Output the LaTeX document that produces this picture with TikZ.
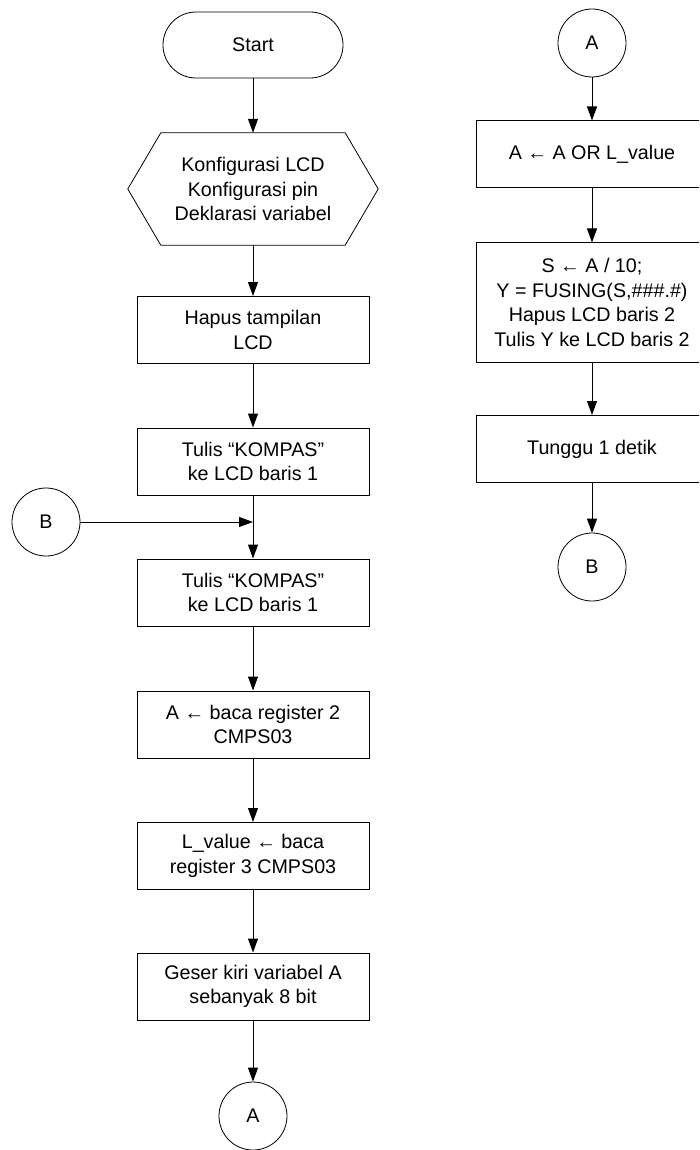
\documentclass[tikz,border=0pt]{standalone}
\usepackage{fontspec}
\setmainfont{Liberation Sans}
\usetikzlibrary{arrows.meta}

\begin{document}
\begin{tikzpicture}[x=1pt, y=-1pt,
    every node/.style={font=\fontsize{19.7}{24.5}\selectfont, align=center},
    proc/.style={draw, line width=1pt, minimum width=232pt, minimum height=67pt, inner sep=0pt},
    conn/.style={draw, circle, line width=0.8pt, minimum size=68pt, inner sep=0pt},
    arr/.style={line width=1pt, -{Triangle[length=14pt,width=10pt]}}]
    \clip (0,0) rectangle (699,1150);

    % Left column
    \node[draw, rounded corners=33pt, minimum width=180pt, minimum height=66pt, line width=0.8pt] (start) at (253,45) {Start};
    \node[minimum width=184pt, minimum height=112pt, inner sep=0pt] (conf) at (253,189) {Konfigurasi LCD\\Konfigurasi pin\\Deklarasi variabel};
    \draw[line width=0.8pt] (conf.north west) -- (conf.north east) -- ([xshift=33pt]conf.east) -- (conf.south east) -- (conf.south west) -- ([xshift=-33pt]conf.west) -- cycle;
    \node[proc] (hapus) at (253,330) {Hapus tampilan\\LCD};
    \node[proc] (tulisa) at (253,461.5) {Tulis “KOMPAS”\\ke LCD baris 1};
    \node[conn] (bin) at (46,522) {B};
    \node[proc] (tulisb) at (253,592.5) {Tulis “KOMPAS”\\ke LCD baris 1};
    \node[proc] (bacaa) at (253,724.5) {A ← baca register 2\\CMPS03};
    \node[proc] (bacal) at (253,856) {L\_value ← baca\\register 3 CMPS03};
    \node[proc] (geser) at (253,986.5) {Geser kiri variabel A\\sebanyak 8 bit};
    \node[conn] (aout) at (253,1116) {A};

    \draw[arr] (start) -- (conf);
    \draw[arr] (conf) -- (hapus);
    \draw[arr] (hapus) -- (tulisa);
    \draw[arr] (tulisa) -- (tulisb);
    \draw[arr] (bin) -- (bin -| tulisa);
    \draw[arr] (tulisb) -- (bacaa);
    \draw[arr] (bacaa) -- (bacal);
    \draw[arr] (bacal) -- (geser);
    \draw[arr] (geser) -- (aout);

    % Right column
    \node[conn] (ain) at (592,43) {A};
    \node[proc] (orval) at (592,154.5) {A ← A OR L\_value};
    \node[proc, minimum height=119pt] (fusing) at (592,302.5) {S ← A / 10;\\Y = FUSING(S,\#\#\#.\#)\\Hapus LCD baris 2\\Tulis Y ke LCD baris 2};
    \node[proc] (tunggu) at (592,449) {Tunggu 1 detik};
    \node[conn] (bout) at (592,567) {B};

    \draw[arr] (ain) -- (orval);
    \draw[arr] (orval) -- (fusing);
    \draw[arr] (fusing) -- (tunggu);
    \draw[arr] (tunggu) -- (bout);
\end{tikzpicture}
\end{document}
